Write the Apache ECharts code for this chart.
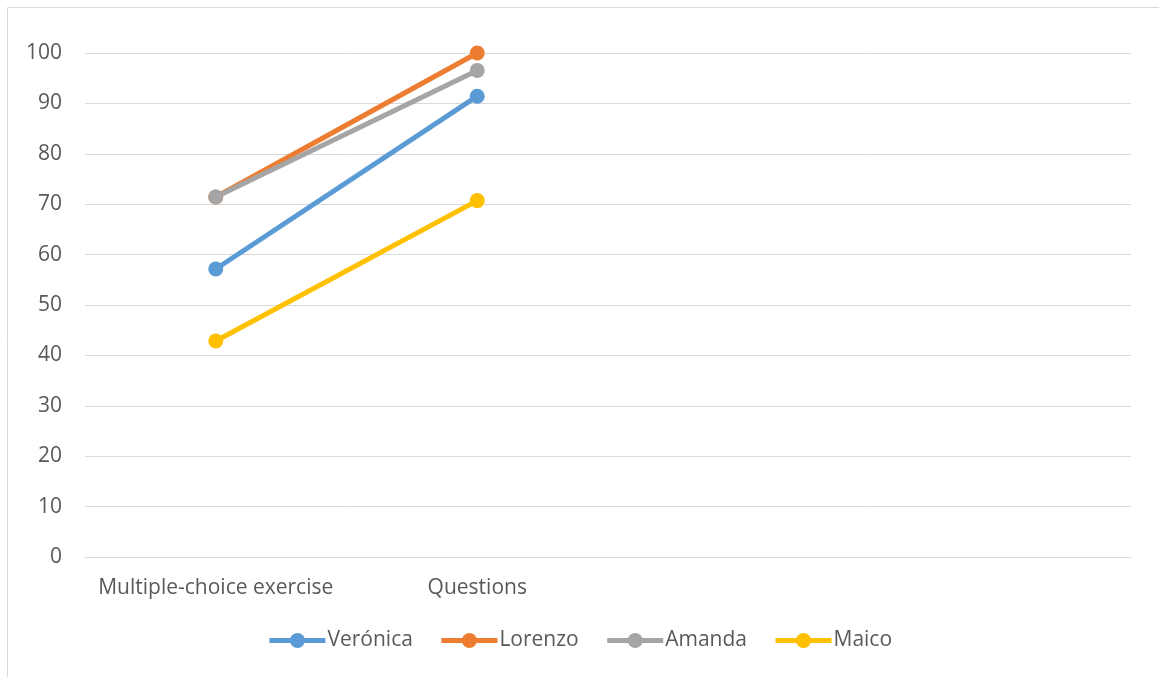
<!DOCTYPE html>
<html><head><meta charset="utf-8">
<script src="https://cdn.jsdelivr.net/npm/echarts@6/dist/echarts.min.js"></script>
<style>html,body{margin:0;padding:0;background:#fff}#c{width:1159px;height:677px}</style>
</head><body><div id="c"></div>
<script>
const categories = ["Multiple-choice exercise", "Questions", "", ""];
const veronica = [57.14, 91.43];
const lorenzo = [71.43, 100];
const amanda = [71.43, 96.55];
const maico = [42.86, 70.71];
const seriesNames = ["Verónica", "Lorenzo", "Amanda", "Maico"];
const colors = ["#5b9bd5", "#ed7d31", "#a5a5a5", "#ffc000"];
const dataSets = [veronica, lorenzo, amanda, maico];
const font = "Open Sans";
const chart = echarts.init(document.getElementById('c'));
chart.setOption({
  animation: false,
  color: colors,
  graphic: [{type:'rect', shape:{x:7.5,y:7.5,width:1160,height:680}, style:{fill:'none', stroke:'#d9d9d9', lineWidth:1}, silent:true}],
  grid: {left: 85, right: 28, top: 53, bottom: 120},
  legend: {
    top: 625, left: 'center', itemWidth: 56, itemHeight: 19, itemGap: 26,
    lineStyle: {width: 5},
    textStyle: {fontFamily: font, fontSize: 21, color: '#595959', padding:[0,0,0,-3]},
    data: seriesNames
  },
  xAxis: {
    type: 'category', data: categories, boundaryGap: true,
    axisLine: {show: true, lineStyle: {color: '#d9d9d9', width: 1}},
    axisTick: {show: false},
    axisLabel: {fontFamily: font, fontSize: 21, color: '#595959', margin: 21, interval: 0}
  },
  yAxis: {
    type: 'value', min: 0, max: 100, interval: 10,
    axisLine: {show: false}, axisTick: {show: false},
    axisLabel: {fontFamily: font, fontSize: 21, color: '#595959', margin: 23},
    splitLine: {lineStyle: {color: '#d9d9d9', width: 1}}
  },
  series: dataSets.map((d, i) => ({
    name: seriesNames[i], type: 'line', data: d,
    symbol: 'circle', symbolSize: 15,
    lineStyle: {width: 5, color: colors[i]},
    itemStyle: {color: colors[i]}
  }))
});
</script></body></html>
